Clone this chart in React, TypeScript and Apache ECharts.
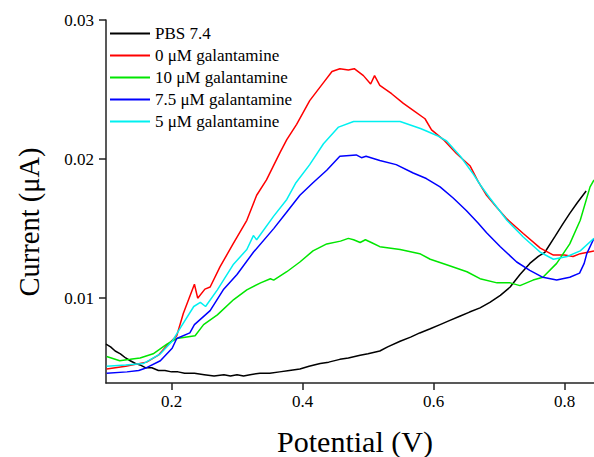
import React, { useEffect, useRef } from "react";
import * as echarts from "echarts";

const seriesNames = [
  "PBS 7.4",
  "0 μM galantamine",
  "10 μM galantamine",
  "7.5 μM galantamine",
  "5 μM galantamine",
];
const seriesColors = ["#000000", "#ff0000", "#00e600", "#0000ff", "#00f0f0"];

const xTitle = "Potential (V)";
const yTitle = "Current (μA)";

const pbs: number[][] = [
  [0.100, 0.0067], [0.107, 0.0065], [0.114, 0.0062], [0.122, 0.0060], [0.130, 0.0057],
  [0.137, 0.0055], [0.145, 0.0053], [0.152, 0.0052], [0.160, 0.0050], [0.170, 0.0050],
  [0.180, 0.0048], [0.190, 0.0048], [0.200, 0.0047], [0.210, 0.0047], [0.220, 0.0046],
  [0.235, 0.0046], [0.250, 0.0045], [0.265, 0.0044], [0.280, 0.0045], [0.290, 0.0044],
  [0.300, 0.0045], [0.310, 0.0044], [0.320, 0.0045], [0.335, 0.0046], [0.350, 0.0046],
  [0.365, 0.0047], [0.380, 0.0048], [0.396, 0.0049], [0.410, 0.0051], [0.427, 0.0053],
  [0.440, 0.0054], [0.457, 0.0056], [0.470, 0.0057], [0.488, 0.0059], [0.500, 0.0060],
  [0.518, 0.0062], [0.530, 0.0065], [0.549, 0.0069], [0.565, 0.0072], [0.579, 0.0075],
  [0.595, 0.0078], [0.610, 0.0081], [0.625, 0.0084], [0.640, 0.0087], [0.655, 0.0090],
  [0.671, 0.0093], [0.686, 0.0097], [0.702, 0.0102], [0.717, 0.0108], [0.732, 0.0117],
  [0.747, 0.0125], [0.760, 0.0130], [0.770, 0.0133], [0.785, 0.0144], [0.797, 0.0153],
  [0.808, 0.0161], [0.820, 0.0169], [0.833, 0.0177],
];

const uM0: number[][] = [
  [0.101, 0.0049], [0.130, 0.0051], [0.162, 0.0054], [0.180, 0.0059], [0.193, 0.0066],
  [0.208, 0.0073], [0.218, 0.0089], [0.235, 0.0110], [0.240, 0.0100], [0.251, 0.01065],
  [0.259, 0.0108], [0.274, 0.01225], [0.294, 0.0139], [0.315, 0.0156], [0.330, 0.0174],
  [0.345, 0.0185], [0.366, 0.0205], [0.376, 0.0214], [0.391, 0.0225], [0.411, 0.0242],
  [0.432, 0.0255], [0.445, 0.0263], [0.457, 0.0265], [0.470, 0.0264], [0.479, 0.0265],
  [0.493, 0.0260], [0.504, 0.0254], [0.510, 0.0260], [0.518, 0.0253], [0.536, 0.0247],
  [0.554, 0.0240], [0.569, 0.0235], [0.587, 0.0229], [0.597, 0.0221], [0.615, 0.0214],
  [0.635, 0.0204], [0.656, 0.0195], [0.668, 0.0184], [0.681, 0.0174], [0.697, 0.0165],
  [0.712, 0.0157], [0.737, 0.01465], [0.763, 0.0136], [0.783, 0.0131], [0.800, 0.0131],
  [0.813, 0.0130], [0.824, 0.0132], [0.845, 0.0134],
];

const uM10: number[][] = [
  [0.101, 0.0058], [0.121, 0.0055], [0.137, 0.0056], [0.152, 0.0057], [0.172, 0.0060],
  [0.193, 0.0067], [0.208, 0.0071], [0.236, 0.0073], [0.249, 0.0081], [0.270, 0.0088],
  [0.295, 0.0099], [0.315, 0.0106], [0.336, 0.0111], [0.351, 0.0114], [0.356, 0.0113],
  [0.376, 0.0119], [0.396, 0.0126], [0.416, 0.0134], [0.437, 0.0139], [0.458, 0.0141],
  [0.470, 0.0143], [0.478, 0.0142], [0.488, 0.0140], [0.496, 0.0142], [0.505, 0.0140],
  [0.518, 0.0137], [0.549, 0.0135], [0.579, 0.0132], [0.595, 0.0128], [0.620, 0.0124],
  [0.651, 0.0119], [0.671, 0.0114], [0.697, 0.0111], [0.717, 0.0111], [0.732, 0.0109],
  [0.752, 0.0113], [0.767, 0.0115], [0.788, 0.0125], [0.808, 0.0139], [0.824, 0.0156],
  [0.839, 0.0180], [0.845, 0.0185],
];

const uM75: number[][] = [
  [0.101, 0.0046], [0.132, 0.0047], [0.150, 0.0048], [0.162, 0.0050], [0.183, 0.0055],
  [0.201, 0.0064], [0.208, 0.0071], [0.228, 0.0075], [0.235, 0.0081], [0.259, 0.0091],
  [0.279, 0.0106], [0.300, 0.0117], [0.325, 0.0133], [0.356, 0.0150], [0.376, 0.0162],
  [0.396, 0.0174], [0.416, 0.0183], [0.437, 0.0192], [0.457, 0.0202], [0.482, 0.0203],
  [0.490, 0.0201], [0.497, 0.0202], [0.518, 0.0199], [0.543, 0.0196], [0.569, 0.0190],
  [0.589, 0.0186], [0.610, 0.0180], [0.630, 0.0172], [0.650, 0.0163], [0.668, 0.0154],
  [0.681, 0.0147], [0.702, 0.0137], [0.727, 0.0126], [0.747, 0.0120], [0.767, 0.0115],
  [0.788, 0.0113], [0.808, 0.0115], [0.823, 0.0118], [0.830, 0.0125], [0.834, 0.0132],
  [0.845, 0.0143],
];

const uM5: number[][] = [
  [0.101, 0.0051], [0.130, 0.0052], [0.157, 0.0053], [0.183, 0.0060], [0.201, 0.0069],
  [0.214, 0.0079], [0.234, 0.0094], [0.244, 0.0097], [0.252, 0.0094], [0.270, 0.0106],
  [0.294, 0.0124], [0.315, 0.0135], [0.325, 0.0145], [0.330, 0.0142], [0.356, 0.0159],
  [0.376, 0.0171], [0.390, 0.0183], [0.411, 0.0196], [0.432, 0.0211], [0.455, 0.0223],
  [0.478, 0.0227], [0.498, 0.0227], [0.529, 0.0227], [0.549, 0.0227], [0.580, 0.0222],
  [0.590, 0.0220], [0.605, 0.0217], [0.620, 0.0213], [0.641, 0.0202], [0.661, 0.0189],
  [0.672, 0.0181], [0.686, 0.0172], [0.712, 0.0156], [0.737, 0.0144], [0.763, 0.0133],
  [0.783, 0.0128], [0.804, 0.0130], [0.824, 0.0134], [0.845, 0.0143],
];

const seriesData = [pbs, uM0, uM10, uM75, uM5];

const xTicks = [0.2, 0.4, 0.6, 0.8];
const yTicks = [0.01, 0.02, 0.03];

const FONT = '"Liberation Serif", "Times New Roman", serif';

export default function App() {
  const ref = useRef<HTMLDivElement>(null);
  useEffect(() => {
    if (!ref.current) return;
    const chart = echarts.init(ref.current, undefined, { renderer: "svg" });
    chart.setOption({
      animation: false,
      backgroundColor: "#ffffff",
      grid: { left: 106, right: 0, top: 20, bottom: 74, containLabel: false },
      legend: {
        orient: "vertical",
        left: 110,
        top: 25,
        itemWidth: 40,
        itemHeight: 2,
        itemGap: 5,
        icon: "rect",
        data: seriesNames,
        textStyle: { fontFamily: FONT, fontSize: 17, color: "#000", lineHeight: 17 },
        padding: 0,
      },
      graphic: [
        {
          type: "text",
          x: 355,
          y: 441,
          style: {
            text: xTitle,
            fontFamily: FONT,
            fontSize: 30,
            fill: "#000",
            textAlign: "center",
            textVerticalAlign: "middle",
          },
        },
        {
          type: "text",
          x: 29,
          y: 222,
          rotation: Math.PI / 2,
          scaleX: 0.95,
          style: {
            text: yTitle,
            fontFamily: FONT,
            fontSize: 30,
            fill: "#000",
            textAlign: "center",
            textVerticalAlign: "middle",
          },
        },
      ],
      xAxis: {
        type: "value",
        min: 0.1,
        max: 0.845,
        splitLine: { show: false },
        axisLine: { show: true, lineStyle: { color: "#222", width: 1.5 } },
        axisTick: { show: true, length: 7, inside: false, customValues: xTicks, lineStyle: { color: "#222", width: 1.5 } },
        axisLabel: {
          customValues: xTicks,
          fontFamily: FONT,
          fontSize: 17,
          color: "#000",
          margin: 10,
          formatter: (v: number) => v.toFixed(1),
        },
      },
      yAxis: {
        type: "value",
        min: 0.0039,
        max: 0.03,
        splitLine: { show: false },
        axisLine: { show: true, lineStyle: { color: "#222", width: 1.5 } },
        axisTick: { show: true, length: 7, inside: false, customValues: yTicks, lineStyle: { color: "#222", width: 1.5 } },
        axisLabel: {
          customValues: yTicks,
          fontFamily: FONT,
          fontSize: 17,
          color: "#000",
          margin: 12,
          formatter: (v: number) => v.toFixed(2),
        },
      },
      series: seriesNames.map((name, i) => ({
        name,
        type: "line",
        data: seriesData[i],
        showSymbol: false,
        symbol: "none",
        color: seriesColors[i],
        lineStyle: { color: seriesColors[i], width: 1.5 },
        clip: true,
      })),
    });
    return () => chart.dispose();
  }, []);
  return (
    <div
      ref={ref}
      style={{ position: "fixed", left: 0, top: 0, width: 594, height: 457 }}
    />
  );
}
